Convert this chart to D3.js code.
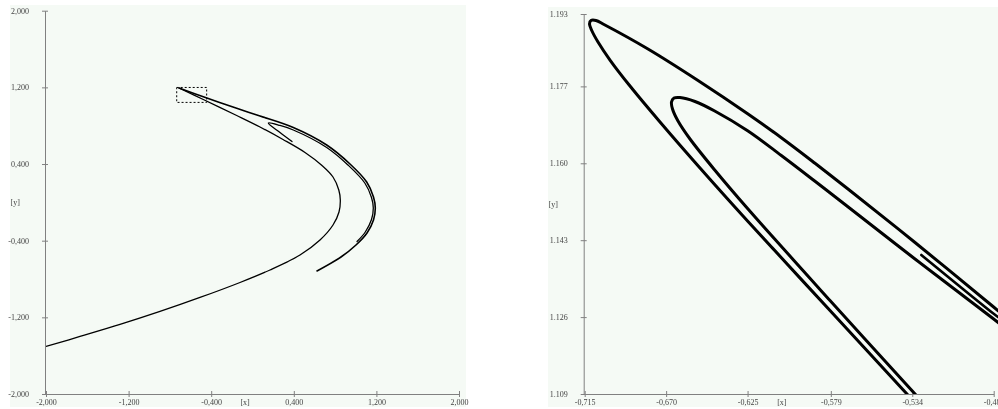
<!DOCTYPE html>
<html>
<head>
<meta charset="utf-8">
<script src="https://cdnjs.cloudflare.com/ajax/libs/d3/7.8.5/d3.min.js"></script>
<style>
body { margin: 0; background: #fff; }
svg { display: block; will-change: transform; }
.tick text, .lab { font-family: "Liberation Serif", serif; font-size: 8px; fill: #444; }
</style>
</head>
<body>
<svg width="998" height="409"></svg>
<script>
// left: whole attractor, right: the dashed box blown up
var leftTicks = [-2, -1.2, -0.4, 0.4, 1.2, 2];
var zoomXTicks = [-0.715, -0.670, -0.625, -0.579, -0.534, -0.489];
var zoomYTicks = [1.109, 1.126, 1.143, 1.160, 1.177, 1.193];
var zoomBox = [[-0.734, 1.199], [-0.444, 1.043]];

// strands
var outerStrand = [[-0.712, 1.193], [-0.4765, 1.1026], [-0.153, 0.9815], [0.0726, 0.9012], [0.3952, 0.7812],
  [0.7186, 0.5986], [0.9443, 0.4003], [1.106, 0.2124], [1.1719, 0.0559], [1.1893, -0.0589], [1.1719, -0.1841],
  [1.109, -0.3197], [1.0024, -0.445], [0.857, -0.5702], [0.6247, -0.7163]];
var innerStrand = [[-0.712, 1.193], [-0.4765, 1.0734], [-0.153, 0.9064], [0.0726, 0.7864], [0.2954, 0.656],
  [0.5085, 0.5203], [0.6731, 0.3846], [0.7797, 0.2646], [0.8358, 0.129], [0.8504, 0.0246], [0.8378, -0.1006],
  [0.7797, -0.2363], [0.6538, -0.3928], [0.46, -0.5493], [0.1695, -0.7058], [-0.1211, -0.8363],
  [-0.5085, -0.9928], [-0.8959, -1.1389], [-1.2833, -1.2745], [-1.6707, -1.3998], [-2.0, -1.5041],
  [-2.058, -1.523]];
var hairpin = [[0.3826, 0.6351], [0.2663, 0.729], [0.153, 0.8281], [0.2663, 0.802], [0.3952, 0.7551],
  [0.7186, 0.5725], [0.9298, 0.3846], [1.0877, 0.202], [1.1525, 0.0507], [1.17, -0.0589],
  [1.1525, -0.1789], [1.0925, -0.3093], [1.0124, -0.4093]];

// strands
var zoomOuter = [[-0.53386, 1.10767], [-0.57945, 1.12746], [-0.62476, 1.14713], [-0.65129, 1.15896],
  [-0.67339, 1.16913], [-0.68997, 1.17708], [-0.70102, 1.18283], [-0.70765, 1.18681], [-0.71097, 1.18924],
  [-0.71235, 1.19079], [-0.71152, 1.19156], [-0.70876, 1.19156], [-0.70434, 1.19068], [-0.68002, 1.18526],
  [-0.65239, 1.1783], [-0.62476, 1.17089], [-0.60653, 1.1657], [-0.58774, 1.16], [-0.56951, 1.15432],
  [-0.53248, 1.14249], [-0.48938, 1.12834], [-0.48551, 1.12706]];
var zoomInner = [[-0.52944, 1.10767], [-0.57945, 1.12967], [-0.62476, 1.14989], [-0.64316, 1.15852],
  [-0.65681, 1.16537], [-0.66344, 1.16935], [-0.66648, 1.172], [-0.66704, 1.17355], [-0.66565, 1.17443],
  [-0.66234, 1.17454], [-0.65405, 1.17366], [-0.64316, 1.17156], [-0.62476, 1.16714], [-0.60636, 1.16172],
  [-0.58791, 1.15608], [-0.57116, 1.15089], [-0.53248, 1.13884], [-0.48938, 1.12569], [-0.48551, 1.12447]];
var zoomShort = [[-0.529, 1.13973], [-0.48938, 1.12684], [-0.48551, 1.12569]];

var svg = d3.select("svg");
var comma = d3.formatLocale({decimal: ",", thousands: ".", grouping: [3], currency: ["", ""], minus: "-"}).format(".3f");
var point = d3.formatLocale({decimal: ".", thousands: ",", grouping: [3], currency: ["", ""], minus: "-"}).format(".3f");

function panel(o) {
  var g = svg.append("g");
  var x = o.x, y = o.y;
  g.append("rect").attr("x", o.bg[0]).attr("y", o.bg[1]).attr("width", o.bg[2]).attr("height", o.bg[3])
    .attr("fill", "#f5faf5");
  g.append("clipPath").attr("id", o.id).append("rect")
    .attr("x", x.range()[0]).attr("y", y.range()[1])
    .attr("width", x.range()[1] - x.range()[0] + 8).attr("height", y.range()[0] - y.range()[1]);

  var ax = g.append("g").attr("transform", "translate(0," + (y.range()[0]) + ")")
    .call(d3.axisBottom(x).tickValues(o.xt).tickFormat(o.xf).tickSizeInner(3).tickSizeOuter(0).tickPadding(2));
  ax.selectAll(".tick line").attr("y1", -3).attr("y2", 3);
  var ay = g.append("g").attr("transform", "translate(" + (x.range()[0] - 1) + ",0)")
    .call(d3.axisLeft(y).tickValues(o.yt).tickFormat(o.yf).tickSizeInner(3).tickSizeOuter(0).tickPadding(13));
  ay.selectAll(".tick line").attr("x1", 3);
  g.selectAll(".domain, .tick line").attr("stroke", "#808080");
  g.selectAll(".tick text").attr("fill", "#444").style("font-family", "Liberation Serif").style("font-size", "8px");

  var w = x.range()[1] - x.range()[0];
  g.append("text").attr("class", "lab").attr("x", x.range()[0] + w * 0.482).attr("y", y.range()[0] + 10.7)
    .attr("text-anchor", "middle").text("[x]");
  g.append("text").attr("class", "lab").attr("x", o.bg[0] + 0.5).attr("y", (y.range()[0] + y.range()[1]) / 2 + 3)
    .text("[y]");

  var line = d3.line().x(d => x(d[0])).y(d => y(d[1])).curve(d3.curveCatmullRom.alpha(0.5));
  var c = g.append("g").attr("clip-path", "url(#" + o.id + ")");
  o.curves.forEach(function (k) {
    c.append("path").attr("d", line(k.data)).attr("fill", "none").attr("stroke", "#000")
      .attr("stroke-width", k.w).attr("stroke-linecap", "round").attr("stroke-linejoin", "round");
  });
  return g;
}

var xL = d3.scaleLinear().domain([-2, 2]).range([46, 459]);
var yL = d3.scaleLinear().domain([-2, 2]).range([394, 10.7]);
var left = panel({
  id: "clipL", x: xL, y: yL, bg: [10, 5, 456, 402],
  xt: leftTicks, yt: leftTicks, xf: comma, yf: comma,
  curves: [{data: innerStrand, w: 1.3}, {data: outerStrand, w: 1.6}, {data: hairpin, w: 1.3}]
});
left.append("rect")
  .attr("x", xL(zoomBox[0][0])).attr("y", yL(zoomBox[0][1]))
  .attr("width", xL(zoomBox[1][0]) - xL(zoomBox[0][0])).attr("height", yL(zoomBox[1][1]) - yL(zoomBox[0][1]))
  .attr("fill", "none").attr("stroke", "#000").attr("stroke-width", 1).attr("stroke-dasharray", "2,2");

var xR = d3.scaleLinear().domain([-0.715, -0.489]).range([584.7, 993.7]);
var yR = d3.scaleLinear().domain([1.109, 1.193]).range([394, 14]);
panel({
  id: "clipR", x: xR, y: yR, bg: [548, 7, 450, 400],
  xt: zoomXTicks, yt: zoomYTicks, xf: comma, yf: point,
  curves: [{data: zoomOuter, w: 3}, {data: zoomInner, w: 3}, {data: zoomShort, w: 2.6}]
});
</script>
</body>
</html>
